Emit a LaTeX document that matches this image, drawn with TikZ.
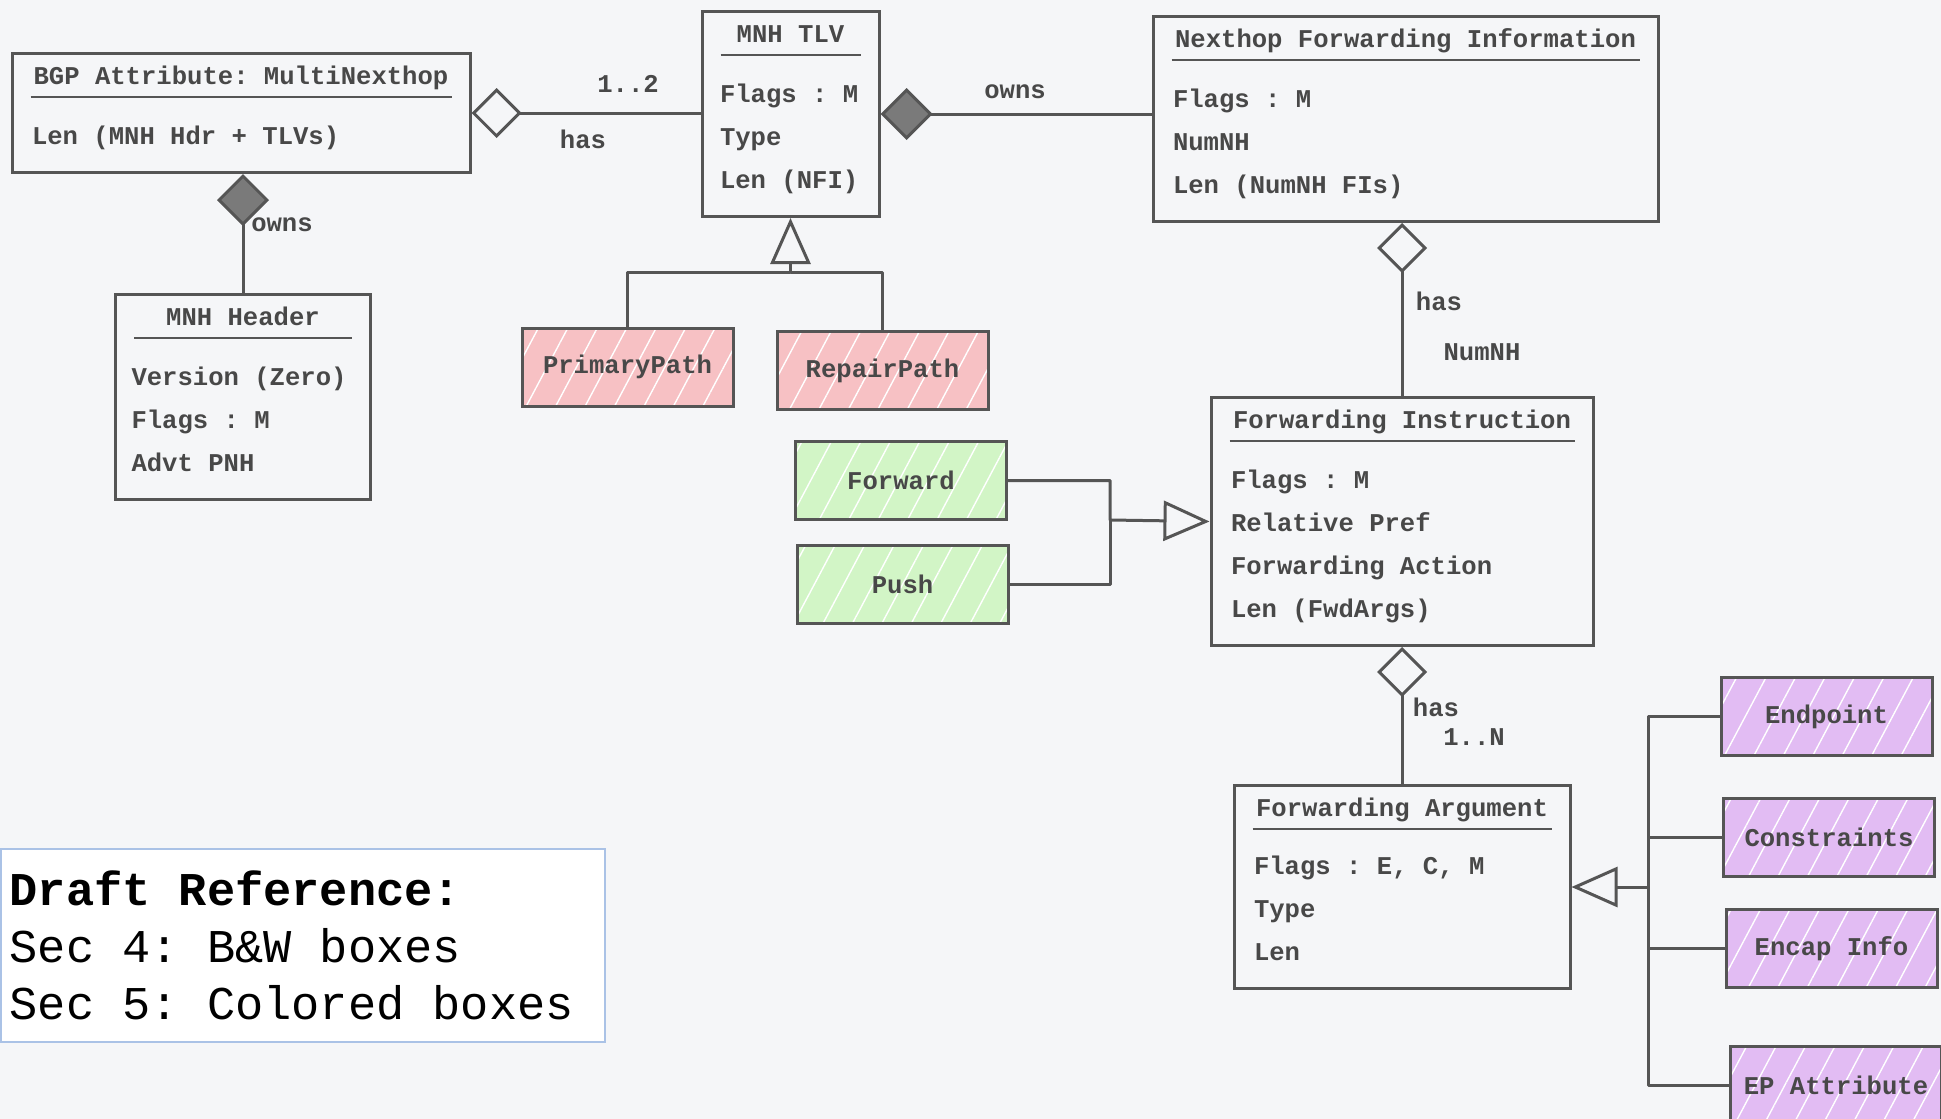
\documentclass[tikz,border=0pt]{standalone}
\usepackage{fontspec}
\setmonofont{Liberation Mono}
\usepackage{xcolor}
\definecolor{canvas}{HTML}{F5F6F8}
\definecolor{ink}{HTML}{555555}
\definecolor{txt}{HTML}{484848}
\definecolor{diafill}{HTML}{7A7A7A}
\definecolor{pathred}{HTML}{F7C1C4}
\definecolor{actgreen}{HTML}{D2F5C6}
\definecolor{argpurple}{HTML}{E2BCF3}
\definecolor{keyblue}{HTML}{AAC2E6}
\usetikzlibrary{arrows.meta, positioning, patterns.meta}

\begin{document}
\begin{tikzpicture}[x=1pt, y=-1pt,
	cls/.style={rectangle, draw=ink, line width=3pt, anchor=north, align=left, inner xsep=20pt,
	            inner ysep=0pt, text=txt, font=\ttfamily\bfseries\fontsize{25.6}{43}\selectfont,
	            execute at begin node={\spaceskip=0.6em\xspaceskip=0.6em\relax}},
	subbox/.style={rectangle, draw=ink, line width=3pt, minimum width=211pt, minimum height=78pt,
	               text=txt, font=\ttfamily\bfseries\fontsize{25.6}{30}\selectfont,
	               preaction={fill=#1}, pattern={Lines[angle=62,distance=26pt,line width=1.4pt]},
	               pattern color=white},
	lbl/.style={text=txt, font=\ttfamily\bfseries\fontsize{25.6}{30}\selectfont, inner sep=0pt},
	sepline/.style={draw=ink, line width=2pt},
	link/.style={draw=ink, line width=3pt, line join=round},
	has/.style={link, {Diamond[open,length=50pt,width=50pt]}-},
	owns/.style={link, {Diamond[fill=diafill,length=52pt,width=52pt]}-},
	isa/.style={link, -{Triangle[open,length=46pt,width=40pt]}},
	legendbox/.style={rectangle, draw=keyblue, line width=1.5pt, fill=white, anchor=north west,
	                  align=left, text width=586pt, inner xsep=9pt, minimum height=193pt,
	                  font=\ttfamily\fontsize{47}{57}\selectfont,
	                  execute at begin node={\spaceskip=0.6em\xspaceskip=0.6em\relax}}
	]
\useasboundingbox (0,0) rectangle (1941,1119);
\fill[canvas] (0,0) rectangle (1941,1119);

% classes
\node[cls, text width=418pt] (bgp) at (241,52)
	{\makebox[\linewidth]{\rule{0pt}{31pt}BGP Attribute: MultiNexthop}\\[17pt]
	 Len (MNH Hdr + TLVs)\rule[-28pt]{0pt}{28pt}};
\node[cls, text width=141pt, inner xsep=18pt] (tlv) at (790.5,10)
	{\makebox[\linewidth]{\rule{0pt}{31pt}MNH TLV}\\[17pt]
	 Flags : M\\
	 Type\\
	 Len (NFI)\rule[-28pt]{0pt}{28pt}};
\node[cls, text width=465pt] (nfi) at (1405.5,15)
	{\makebox[\linewidth]{\rule{0pt}{31pt}Nexthop Forwarding Information}\\[17pt]
	 Flags : M\\
	 NumNH\\
	 Len (NumNH FIs)\rule[-28pt]{0pt}{28pt}};
\node[cls, text width=223pt, inner xsep=16pt] (hdr) at (243,293)
	{\makebox[\linewidth]{\rule{0pt}{31pt}MNH Header}\\[17pt]
	 Version (Zero)\\
	 Flags : M\\
	 Advt PNH\rule[-28pt]{0pt}{28pt}};
\node[cls, text width=342pt] (fi) at (1402,396)
	{\makebox[\linewidth]{\rule{0pt}{31pt}Forwarding Instruction}\\[17pt]
	 Flags : M\\
	 Relative Pref\\
	 Forwarding Action\\
	 Len (FwdArgs)\rule[-28pt]{0pt}{28pt}};
\node[cls, text width=296pt] (fa) at (1402,784)
	{\makebox[\linewidth]{\rule{0pt}{31pt}Forwarding Argument}\\[15pt]
	 Flags : E, C, M\\
	 Type\\
	 Len\rule[-28pt]{0pt}{28pt}};

\foreach \cl in {bgp, tlv, nfi, hdr, fi, fa}
	\draw[sepline] ([xshift=20pt,yshift=-45pt]\cl.north west) -- ([xshift=-20pt,yshift=-45pt]\cl.north east);

% sub types
\node[subbox=pathred] (prim) at (627.5,367) {PrimaryPath};
\node[subbox=pathred] (rep) at (882.5,370.5) {RepairPath};
\node[subbox=actgreen] (fwd) at (901,480.5) {Forward};
\node[subbox=actgreen] (push) at (902.5,584) {Push};
\node[subbox=argpurple] (endp) at (1826.5,716.5) {Endpoint};
\node[subbox=argpurple] (cons) at (1829,837) {Constraints};
\node[subbox=argpurple] (encap) at (1831.5,948.5) {Encap Info};
\node[subbox=argpurple] (epa) at (1836,1085) {EP Attribute};

% associations
\draw[has] (bgp.east) -- (bgp.east -| tlv.west);
\draw[owns] (tlv.east) -- (tlv.east -| nfi.west);
\draw[owns] (hdr.north |- bgp.south) -- (hdr.north);
\draw[has] (fi.north |- nfi.south) -- (fi.north);
\draw[has] (fi.south) -- (fa.north);

\node[lbl] (tlvcount) at (628,84) {1..2};
\node[lbl] (tlvhas) at (583,139) {has};
\node[lbl] (nfiowns) at (1015,92) {owns};
\node[lbl] (hdrowns) at (282,225) {owns};
\node[lbl] (fihas) at (1439,301) {has};
\node[lbl] (ficount) at (1482,352) {NumNH};
\node[lbl] (fahas) at (1436,707) {has};
\node[lbl] (facount) at (1474,737) {1..N};

% generalisations
\coordinate (tlvjoin) at (790.5,272);
\draw[isa] (prim.north) |- (tlvjoin) -- (tlv.south);
\draw[link] (rep.north) |- (tlvjoin);

\coordinate (actjoin) at (1110,520);
\draw[isa] (fwd.east) -| (actjoin) -- (fi.west);
\draw[link] (push.east) -| (actjoin);

\coordinate (argjoin) at ([xshift=77pt]fa.east);
\draw[isa] (endp.west) -| (argjoin) -- (fa.east);
\draw[link] (epa.west) -| (argjoin);
\draw[link] (cons.west) -- (cons.west -| argjoin);
\draw[link] (encap.west) -- (encap.west -| argjoin);

\node[legendbox] (draft) at (0,848)
	{\textbf{Draft Reference:}\\
	 Sec 4: B\&W boxes\\
	 Sec 5: Colored boxes};
\end{tikzpicture}
\end{document}
